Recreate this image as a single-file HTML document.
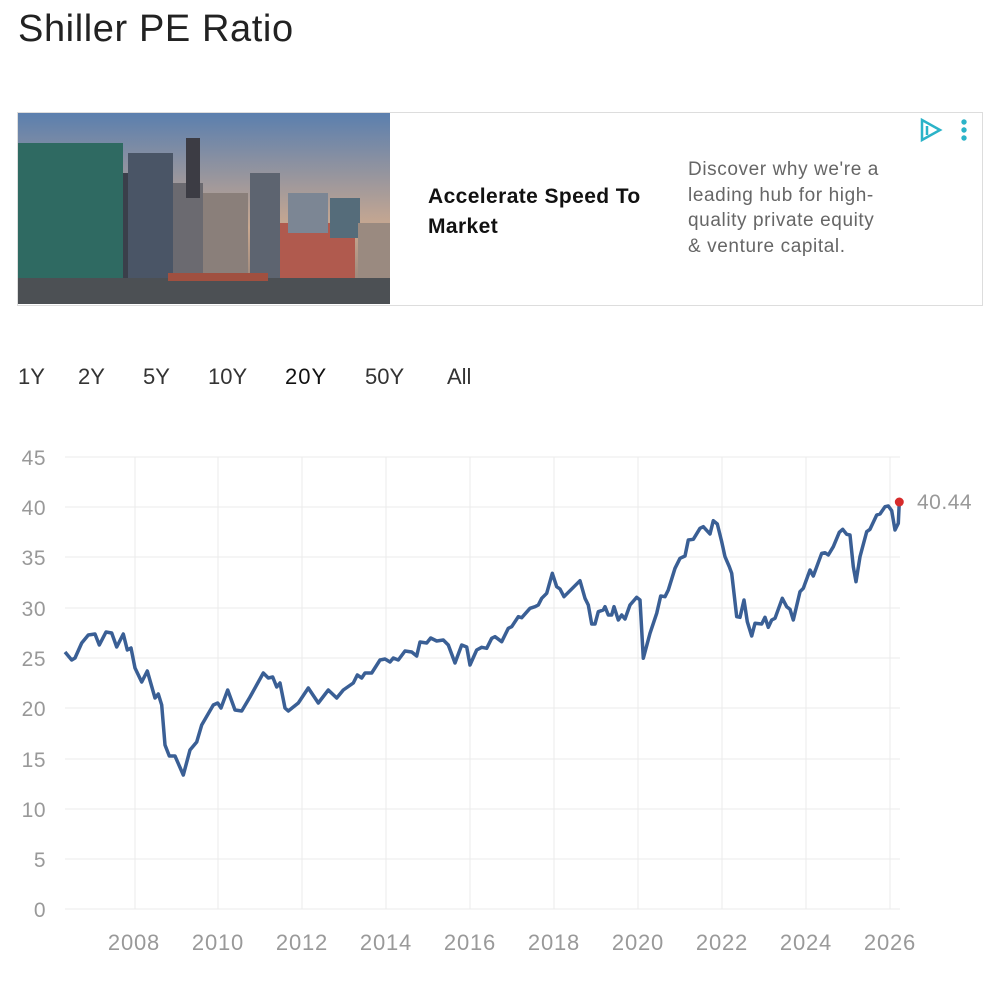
<!DOCTYPE html>
<html><head><meta charset="utf-8">
<style>
body{margin:0;width:1000px;height:991px;background:#fff;font-family:"Liberation Sans",sans-serif;position:relative;overflow:hidden}
.t{position:absolute;white-space:nowrap}
</style></head><body>
<div class="t" style="left:18px;top:8px;font-size:38px;color:#222;letter-spacing:0.6px;">Shiller PE Ratio</div>
<div style="position:absolute;left:17px;top:112px;width:964px;height:192px;border:1px solid #ddd;"></div>
<svg style="position:absolute;left:18px;top:113px" width="372" height="191">
<defs><linearGradient id="sky" x1="0" y1="0" x2="0" y2="1"><stop offset="0" stop-color="#5b7fae"/><stop offset="0.6" stop-color="#c9a890"/><stop offset="1" stop-color="#8a7b74"/></linearGradient></defs>
<rect width="372" height="191" fill="url(#sky)"/>
<rect x="0" y="30" width="105" height="140" fill="#2f6a62"/>
<rect x="105" y="60" width="20" height="110" fill="#3a3f4a"/>
<rect x="110" y="40" width="45" height="130" fill="#4a5566"/>
<rect x="155" y="70" width="30" height="100" fill="#6b6a70"/>
<rect x="168" y="25" width="14" height="60" fill="#3c3c44"/>
<rect x="185" y="80" width="45" height="90" fill="#8a7f7a"/>
<rect x="232" y="60" width="30" height="110" fill="#5d6470"/>
<rect x="262" y="110" width="75" height="60" fill="#b05a4e"/>
<rect x="270" y="80" width="40" height="40" fill="#7c8694"/>
<rect x="312" y="85" width="30" height="40" fill="#556c7a"/>
<rect x="340" y="110" width="32" height="60" fill="#9a8a80"/>
<rect x="0" y="165" width="372" height="26" fill="#4c5054"/>
<rect x="150" y="160" width="100" height="8" fill="#a05040"/>
</svg>
<div class="t" style="left:428px;top:182px;font-size:21px;font-weight:bold;color:#111;line-height:30px;letter-spacing:0.4px;">Accelerate Speed To<br>Market</div>
<div class="t" style="left:688px;top:157px;font-size:19px;color:#666;line-height:25.5px;letter-spacing:0.6px;">Discover why we're a<br>leading hub for high-<br>quality private equity<br>&amp; venture capital.</div>
<svg style="position:absolute;left:918px;top:117px" width="55" height="28">
<path d="M4 3 L22 13 L4 23 Z" fill="none" stroke="#2bb3c8" stroke-width="2.5"/>
<path d="M9 9 V18" stroke="#2bb3c8" stroke-width="2.5"/>
<circle cx="46" cy="5" r="2.7" fill="#2bb3c8"/><circle cx="46" cy="13" r="2.7" fill="#2bb3c8"/><circle cx="46" cy="21" r="2.7" fill="#2bb3c8"/>
</svg>
<div class="t" style="left:18px;top:364px;font-size:22px;color:#333;">1Y</div>
<div class="t" style="left:78px;top:364px;font-size:22px;color:#333;">2Y</div>
<div class="t" style="left:143px;top:364px;font-size:22px;color:#333;">5Y</div>
<div class="t" style="left:208px;top:364px;font-size:22px;color:#333;">10Y</div>
<div class="t" style="left:285px;top:364px;font-size:22px;color:#111;letter-spacing:1px;">20Y</div>
<div class="t" style="left:365px;top:364px;font-size:22px;color:#333;">50Y</div>
<div class="t" style="left:447px;top:364px;font-size:22px;color:#333;">All</div>
<svg style="position:absolute;left:0;top:0" width="1000" height="991" font-family="Liberation Sans, sans-serif">
<g stroke="#ebebeb" stroke-width="1">
<line x1="65" x2="900" y1="457" y2="457"/><line x1="65" x2="900" y1="507" y2="507"/><line x1="65" x2="900" y1="557" y2="557"/><line x1="65" x2="900" y1="608" y2="608"/><line x1="65" x2="900" y1="658" y2="658"/><line x1="65" x2="900" y1="708" y2="708"/><line x1="65" x2="900" y1="759" y2="759"/><line x1="65" x2="900" y1="809" y2="809"/><line x1="65" x2="900" y1="859" y2="859"/><line x1="65" x2="900" y1="909" y2="909"/>
<line x1="135" x2="135" y1="457" y2="909"/><line x1="218" x2="218" y1="457" y2="909"/><line x1="302" x2="302" y1="457" y2="909"/><line x1="386" x2="386" y1="457" y2="909"/><line x1="470" x2="470" y1="457" y2="909"/><line x1="554" x2="554" y1="457" y2="909"/><line x1="638" x2="638" y1="457" y2="909"/><line x1="722" x2="722" y1="457" y2="909"/><line x1="806" x2="806" y1="457" y2="909"/><line x1="890" x2="890" y1="457" y2="909"/>
</g>
<g fill="#999" font-size="21" text-anchor="end" letter-spacing="0.5">
<text x="46" y="465">45</text><text x="46" y="515">40</text><text x="46" y="565">35</text><text x="46" y="616">30</text><text x="46" y="666">25</text><text x="46" y="716">20</text><text x="46" y="767">15</text><text x="46" y="817">10</text><text x="46" y="867">5</text><text x="46" y="917">0</text>
</g>
<g fill="#999" font-size="22" text-anchor="middle" letter-spacing="0.8">
<text x="134" y="950">2008</text><text x="218" y="950">2010</text><text x="302" y="950">2012</text><text x="386" y="950">2014</text><text x="470" y="950">2016</text><text x="554" y="950">2018</text><text x="638" y="950">2020</text><text x="722" y="950">2022</text><text x="806" y="950">2024</text><text x="890" y="950">2026</text>
</g>
<polyline fill="none" stroke="#3a5f95" stroke-width="3.5" stroke-linejoin="round" points="65,652 71.7,660 75,658 81.7,643 88.3,635 95,634 99.3,645 106,632 111.7,633 116.7,647 123.3,634 127.3,650 131,648 135,668 141.7,682 147.3,671 155,698 158.3,694 161.7,705 165,745 169.3,756 175,756 183.3,775 190,750 196.7,742 201.7,725 213.3,705 217.7,703 221,708 227.7,690 235,710 241.7,711 250,697 263.3,673 268.3,678 272.7,677 276.7,687 280,683 285,708 288.3,711 298.3,703 308.3,688 318.3,703 328.3,690 336.7,698 343.3,690 353.3,683 357.3,675 361.7,678 365,673 371.7,673 380,660 385,659 390,662 393.3,658 398.3,660 405,651 411.7,652 416.7,656 420,642 426.7,643 430.7,638 436.7,641 443.3,640 448.3,645 455,663 461.7,645 466.7,647 470,665 476.7,650 481.7,647.3 486.7,648.3 491.7,638.3 495,636.7 501.7,641.7 508.3,628.3 511.7,626.7 518.3,616.7 521.7,617.7 530,608.3 535,606.7 538.3,605 541.7,598.3 546.7,593.3 552.3,573.3 556.7,586.7 560,589 564,596.7 580,580.7 585,598.3 588.3,605 591.7,624 595,624 598.3,611.7 603.3,610 605,606.7 608.3,615 611.7,615 614,606.7 618.3,620 621.7,615 625,619 630,605 636.7,597.3 640,600 643.3,658.3 650,633.3 656.7,613.3 660.7,596 665,596.7 668.3,590 675,568.3 680,558.3 685,556 688.3,540 693.3,539.3 700,528.3 703.3,526.7 710,534 713.3,520.7 717.3,524 721.7,541.7 725,556.7 729.3,566.7 731.7,573.3 736.7,616.7 740,617.3 744,600 747.3,621.7 751.7,636 755,623.3 761.7,624 765,617.3 768.3,627.3 771.7,620 775,618.3 782.3,598.3 786.7,606.7 790,609.3 793.3,620 800,591.7 803.3,588.3 810,570 813.3,576 821.7,553.3 825,552.7 828.3,555 833.3,546.7 839.3,532.3 842.7,529.3 846.7,534.3 850,535 853.3,566.7 856,581.7 860,556.7 866.7,531.7 870,529.3 876.7,515 880,514 885,506.7 888.3,506 891.7,510.7 895,530 898.3,523.3 899.3,502"/>
<circle cx="899.3" cy="502" r="4.5" fill="#d62b2b"/>
<text x="917" y="509" fill="#999" font-size="21" letter-spacing="0.5">40.44</text>
</svg>
</body></html>
